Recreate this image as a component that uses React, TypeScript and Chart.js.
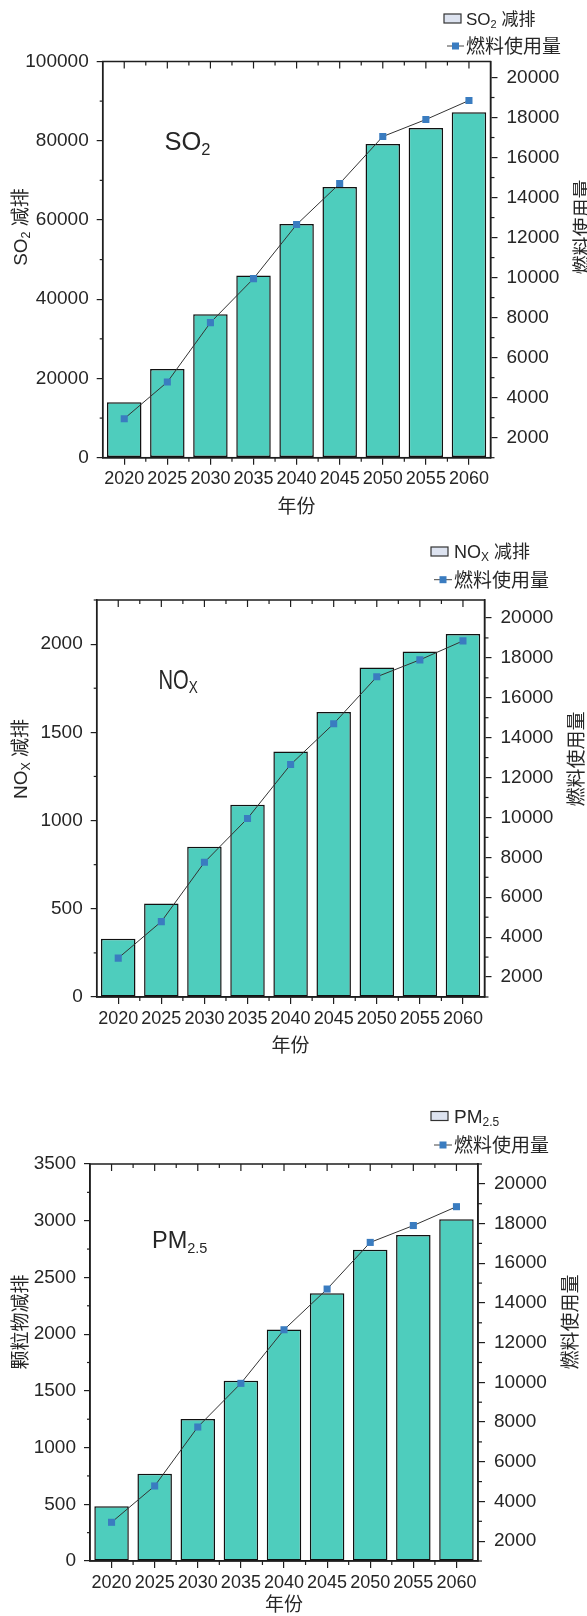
import React, { useEffect, useRef } from "react";
import { Chart, registerables } from "chart.js";

Chart.register(...registerables);

// ---- data ----
const years = ["2020", "2025", "2030", "2035", "2040", "2045", "2050", "2055", "2060"];
const so2Reduction = [14000, 22400, 36200, 46000, 59000, 68300, 79200, 83200, 87200];
const noxReduction = [330, 530, 852, 1090, 1392, 1615, 1868, 1958, 2058];
const pm25Reduction = [482, 770, 1252, 1590, 2040, 2360, 2745, 2874, 3012];
const fuelUse = [2950, 4780, 7750, 9950, 12650, 14700, 17050, 17900, 18850];

const so2Ticks = [0, 20000, 40000, 60000, 80000, 100000];
const noxTicks = [0, 500, 1000, 1500, 2000];
const pm25Ticks = [0, 500, 1000, 1500, 2000, 2500, 3000, 3500];
const fuelTicks = [2000, 4000, 6000, 8000, 10000, 12000, 14000, 16000, 18000, 20000];

const FONT = "'Liberation Sans', 'Noto Sans CJK SC', Arial, sans-serif";
const AXIS = "#1e1e1e";
const TEXT = "#262626";
const BAR_FILL = "#4ecdbd";
const MARKER = "#3a7cc0";
const PAGE_W = 587;

type Run = { t: string; size: number; dy?: number; sx?: number };

interface PanelSpec {
  top: number;
  height: number;
  area: { l: number; r: number; t: number; b: number };
  barLabel: string;
  bars: number[];
  leftMax: number;
  leftTicks: number[];
  rightMin: number;
  rightMax: number;
  tag: Run[];
  tagPos: { x: number; y: number };
  yTitle: Run[];
  titleCenter: number;
  xTitleGap: number;
  legendFirst: Run[];
  legend: { boxX: number; textX: number; row1: number; row2: number };
}

const panels: PanelSpec[] = [
  {
    top: 0,
    height: 530,
    area: { l: 102.7, r: 490.5, t: 61.5, b: 457.7 },
    barLabel: "SO2 减排",
    bars: so2Reduction,
    leftMax: 100000,
    leftTicks: so2Ticks,
    rightMin: 1000,
    rightMax: 20800,
    tag: [{ t: "SO", size: 25.5 }, { t: "2", size: 16.5, dy: 4.5 }],
    tagPos: { x: 164.5, y: 150 },
    yTitle: [{ t: "SO", size: 19 }, { t: "2", size: 12.5, dy: 3.5 }, { t: " 减排", size: 19 }],
    titleCenter: 227,
    xTitleGap: 48,
    legendFirst: [{ t: "SO", size: 17 }, { t: "2", size: 11, dy: 3 }, { t: " 减排", size: 17 }],
    legend: { boxX: 444, textX: 466, row1: 18.5, row2: 46 },
  },
  {
    top: 525,
    height: 545,
    area: { l: 96.7, r: 484.5, t: 600, b: 997 },
    barLabel: "NOX 减排",
    bars: noxReduction,
    leftMax: 2250,
    leftTicks: noxTicks,
    rightMin: 1000,
    rightMax: 20900,
    tag: [{ t: "NO", size: 28, sx: 0.72 }, { t: "X", size: 16, dy: 4, sx: 0.85 }],
    tagPos: { x: 158.5, y: 689.3 },
    yTitle: [{ t: "NO", size: 19 }, { t: "X", size: 12.5, dy: 3.5 }, { t: " 减排", size: 19 }],
    titleCenter: 759,
    xTitleGap: 48,
    legendFirst: [{ t: "NO", size: 18 }, { t: "X", size: 12, dy: 3 }, { t: " 减排", size: 18 }],
    legend: { boxX: 431, textX: 454, row1: 551.5, row2: 579.7 },
  },
  {
    top: 1070,
    height: 546,
    area: { l: 90, r: 478, t: 1164, b: 1561 },
    barLabel: "PM2.5",
    bars: pm25Reduction,
    leftMax: 3500,
    leftTicks: pm25Ticks,
    rightMin: 1000,
    rightMax: 21000,
    tag: [{ t: "PM", size: 23.5 }, { t: "2.5", size: 14.5, dy: 4.4 }],
    tagPos: { x: 152, y: 1248.3 },
    yTitle: [{ t: "颗粒物减排", size: 19 }],
    titleCenter: 1322,
    xTitleGap: 43,
    legendFirst: [{ t: "PM", size: 19 }, { t: "2.5", size: 12, dy: 3.5 }],
    legend: { boxX: 431, textX: 454, row1: 1116, row2: 1145 },
  },
];

function runsWidth(ctx: CanvasRenderingContext2D, runs: Run[]) {
  let w = 0;
  for (const r of runs) {
    ctx.font = `${r.size}px ${FONT}`;
    w += ctx.measureText(r.t).width * (r.sx ?? 1);
  }
  return w;
}

function drawRuns(
  ctx: CanvasRenderingContext2D,
  runs: Run[],
  x: number,
  y: number,
  align: "left" | "center"
) {
  const total = runsWidth(ctx, runs);
  let cx = align === "center" ? x - total / 2 : x;
  ctx.textAlign = "left";
  ctx.textBaseline = "alphabetic";
  for (const r of runs) {
    ctx.font = `${r.size}px ${FONT}`;
    const sx = r.sx ?? 1;
    const w = ctx.measureText(r.t).width * sx;
    ctx.save();
    ctx.translate(cx, y + (r.dy ?? 0));
    ctx.scale(sx, 1);
    ctx.fillText(r.t, 0, 0);
    ctx.restore();
    cx += w;
  }
}

function line(ctx: CanvasRenderingContext2D, x1: number, y1: number, x2: number, y2: number) {
  ctx.beginPath();
  ctx.moveTo(x1, y1);
  ctx.lineTo(x2, y2);
  ctx.stroke();
}

function makeDecor(spec: PanelSpec) {
  return {
    id: "panelDecor",
    afterDraw(chart: any) {
      const ctx: CanvasRenderingContext2D = chart.ctx;
      const { left, right, top, bottom } = chart.chartArea;
      const off = spec.top;
      const xs = chart.scales.x;
      const ys = chart.scales.y;
      const y1 = chart.scales.y1;
      ctx.save();
      ctx.strokeStyle = AXIS;
      ctx.lineWidth = 1.5;
      // frame
      ctx.strokeRect(left, top, right - left, bottom - top);
      ctx.lineWidth = 1.2;
      // category ticks on top edge, boundary ticks on top and bottom
      const n = years.length;
      for (let i = 0; i < n; i++) {
        const x = xs.getPixelForValue(i);
        line(ctx, x, top, x, top + 7);
      }
      const step = (right - left) / n;
      for (let i = 1; i < n; i++) {
        const bx = left + i * step;
        line(ctx, bx, top, bx, top + 4);
        line(ctx, bx, bottom, bx, bottom + 4);
      }
      // minor ticks on the left axis
      const lt = spec.leftTicks;
      const half = (lt[1] - lt[0]) / 2;
      for (let v = half; v <= spec.leftMax + 1e-6; v += 2 * half) {
        const y = ys.getPixelForValue(v);
        line(ctx, left - 3, y, left, y);
      }
      // minor ticks on the right axis
      for (let v = 1000; v <= spec.rightMax; v += 2000) {
        const y = y1.getPixelForValue(v);
        line(ctx, right, y, right + 4, y);
      }

      ctx.fillStyle = TEXT;
      // series tag inside the plot
      drawRuns(ctx, spec.tag, spec.tagPos.x, spec.tagPos.y - off, "left");

      // axis titles
      const c = spec.titleCenter - off;
      ctx.save();
      ctx.translate(20, c);
      ctx.rotate(-Math.PI / 2);
      drawRuns(ctx, spec.yTitle, 0, 0.36 * 19, "center");
      ctx.restore();
      ctx.save();
      ctx.translate(right + 92, c);
      ctx.rotate(-Math.PI / 2);
      drawRuns(ctx, [{ t: "燃料使用量", size: 19 }], 0, 0.36 * 19, "center");
      ctx.restore();
      drawRuns(
        ctx,
        [{ t: "年份", size: 19 }],
        (left + right) / 2,
        bottom + spec.xTitleGap + 0.36 * 19,
        "center"
      );

      // legend
      const lg = spec.legend;
      const r1 = lg.row1 - off;
      const r2 = lg.row2 - off;
      ctx.fillStyle = "#dde3f0";
      ctx.fillRect(lg.boxX, r1 - 4.5, 17, 9);
      ctx.strokeStyle = "#333";
      ctx.lineWidth = 1.2;
      ctx.strokeRect(lg.boxX, r1 - 4.5, 17, 9);
      ctx.fillStyle = TEXT;
      drawRuns(ctx, spec.legendFirst, lg.textX, r1 + 0.36 * spec.legendFirst[0].size, "left");
      ctx.strokeStyle = "#444";
      ctx.lineWidth = 1;
      line(ctx, lg.boxX + 3, r2, lg.textX - 2, r2);
      ctx.fillStyle = MARKER;
      const mx = (lg.boxX + 3 + lg.textX - 2) / 2;
      ctx.fillRect(mx - 3.5, r2 - 3.5, 7, 7);
      ctx.fillStyle = TEXT;
      drawRuns(ctx, [{ t: "燃料使用量", size: 19 }], lg.textX, r2 + 0.36 * 19, "left");
      ctx.restore();
    },
  };
}

function Panel({ spec }: { spec: PanelSpec }) {
  const ref = useRef<HTMLCanvasElement>(null);
  useEffect(() => {
    const canvas = ref.current;
    if (!canvas) return;
    const a = spec.area;
    const tickFont = { family: FONT, size: 19 };
    const chart = new Chart(canvas, {
      type: "bar",
      data: {
        labels: years,
        datasets: [
          {
            type: "line",
            label: "燃料使用量",
            data: fuelUse,
            yAxisID: "y1",
            order: 0,
            borderColor: "#333",
            borderWidth: 1,
            tension: 0,
            pointStyle: "rect",
            pointRadius: 5,
            pointBackgroundColor: MARKER,
            pointBorderWidth: 0,
            pointBorderColor: MARKER,
          } as any,
          {
            type: "bar",
            label: spec.barLabel,
            data: spec.bars,
            yAxisID: "y",
            order: 1,
            backgroundColor: BAR_FILL,
            borderColor: "#111",
            borderWidth: 1.5,
            borderSkipped: false,
            barPercentage: 0.8,
            categoryPercentage: 1,
          } as any,
        ],
      },
      options: {
        animation: false,
        responsive: false,
        maintainAspectRatio: false,
        layout: { padding: { top: a.t - spec.top, left: 0, right: 0, bottom: 0 } },
        plugins: {
          legend: { display: false },
          tooltip: { enabled: false },
          title: { display: false },
        },
        scales: {
          x: {
            type: "category",
            offset: true,
            grid: {
              offset: false,
              drawOnChartArea: false,
              drawTicks: true,
              tickLength: 7,
              color: AXIS,
              lineWidth: 1.2,
            },
            border: { display: true, color: AXIS, width: 1.5 },
            ticks: {
              font: { family: FONT, size: 18 },
              color: TEXT,
              padding: 4,
              maxRotation: 0,
              autoSkip: false,
            },
            afterFit: (s: any) => {
              s.height = spec.height - (a.b - spec.top);
            },
          },
          y: {
            type: "linear",
            position: "left",
            min: 0,
            max: spec.leftMax,
            afterBuildTicks: (s: any) => {
              s.ticks = spec.leftTicks.map((v) => ({ value: v }));
            },
            ticks: {
              font: tickFont,
              color: TEXT,
              padding: 8,
              callback: (v: any) => String(v),
            },
            grid: { drawOnChartArea: false, tickLength: 6, color: AXIS, lineWidth: 1.2 },
            border: { display: true, color: AXIS, width: 1.5 },
            afterFit: (s: any) => {
              s.width = a.l;
            },
          },
          y1: {
            type: "linear",
            position: "right",
            min: spec.rightMin,
            max: spec.rightMax,
            afterBuildTicks: (s: any) => {
              s.ticks = fuelTicks.map((v) => ({ value: v }));
            },
            ticks: {
              font: tickFont,
              color: TEXT,
              padding: 9,
              callback: (v: any) => String(v),
            },
            grid: { drawOnChartArea: false, tickLength: 7, color: AXIS, lineWidth: 1.2 },
            border: { display: true, color: AXIS, width: 1.5 },
            afterFit: (s: any) => {
              s.width = PAGE_W - a.r;
            },
          },
        },
      } as any,
      plugins: [makeDecor(spec)],
    });
    return () => chart.destroy();
  }, [spec]);
  return (
    <canvas
      ref={ref}
      width={PAGE_W}
      height={spec.height}
      style={{
        position: "absolute",
        left: 0,
        top: spec.top,
        width: PAGE_W,
        height: spec.height,
        display: "block",
      }}
    />
  );
}

export default function App() {
  return (
    <div
      style={{
        position: "absolute",
        left: 0,
        top: 0,
        width: PAGE_W,
        height: 1616,
        background: "#fff",
        overflow: "hidden",
      }}
    >
      {panels.map((p, i) => (
        <Panel key={i} spec={p} />
      ))}
    </div>
  );
}
